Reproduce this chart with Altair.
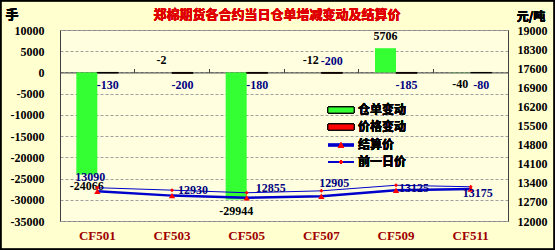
import altair as alt
import pandas as pd

categories = ["CF501", "CF503", "CF505", "CF507", "CF509", "CF511"]
receipt_change = [-24066, -2, -29944, -12, 5706, -40]
price_change = [-130, -200, -180, -200, -185, -80]
settle_price = [13090, 12930, 12855, 12905, 13125, 13175]
prev_price = [13220, 13130, 13035, 13105, 13310, 13255]

left_ticks = [10000, 5000, 0, -5000, -10000, -15000, -20000, -25000, -30000, -35000]
right_ticks = [12000, 12700, 13400, 14100, 14800, 15500, 16200, 16900, 17600, 18300, 19000]

title_text = "郑棉期货各合约当日仓单增减变动及结算价"
legend_labels = ["仓单变动", "价格变动", "结算价", "前一日价"]

df = pd.DataFrame({
    "cat": categories,
    "receipt": receipt_change,
    "pchg": price_change,
    "settle": settle_price,
    "prev": prev_price,
})

W, H = 448, 191
NUM_FONT = "Liberation Serif"
CJK_FONT = "Noto Sans CJK SC"
GREEN = "#33FF33"
RED = "#FF0000"
BLUE = "#0000CC"
NAVY = "#000080"

base = alt.Chart(df).transform_calculate(
    receipt_s="'' + datum.receipt",
    pchg_s="'' + datum.pchg",
    settle_s="'' + datum.settle",
)

def xenc(axis=None):
    return alt.X("cat:N", sort=categories,
                 scale=alt.Scale(type="band", domain=categories, paddingInner=0, paddingOuter=0),
                 axis=axis)

def yleft(field, axis=None):
    return alt.Y(field, scale=alt.Scale(domain=[-35000, 10000], nice=False, zero=False), axis=axis)

def yright(field, axis=None):
    return alt.Y(field, scale=alt.Scale(domain=[12000, 19000], nice=False, zero=False), axis=axis)

bottom_axis = alt.Axis(orient="bottom", domain=False, ticks=False, labelAngle=0, grid=False,
                       labelFont=NUM_FONT, labelFontWeight="bold", labelFontSize=13,
                       labelColor="#A00000", labelPadding=8, title=None)
zero_axis = alt.Axis(orient="top", offset=-(H * 10000 / 45000), labels=False, ticks=True,
                     tickSize=4, tickColor="#404040", domain=True, domainColor="#404040",
                     bandPosition=0, grid=False, title=None)
left_axis = alt.Axis(values=left_ticks, labelExpr="'' + datum.value", grid=True,
                     gridDash=[3, 2], gridColor="#A0A0A0", domain=True, domainColor="#404040",
                     ticks=False, labelFont=NUM_FONT, labelFontSize=12, labelFontWeight="bold",
                     labelColor="black", labelPadding=16, title=None)
right_axis = alt.Axis(orient="right", values=right_ticks, labelExpr="'' + datum.value",
                      grid=False, domain=True, domainColor="#404040", ticks=False,
                      labelFont=NUM_FONT, labelFontSize=12, labelFontWeight="bold",
                      labelColor="black", labelPadding=9, title=None)

green_bars = base.mark_bar(size=21, xOffset=-10.5, color=GREEN).encode(
    x=xenc(bottom_axis), y=yleft("receipt:Q", left_axis))
red_bars = base.mark_bar(size=21, xOffset=10.5, color=RED, stroke="#000000", strokeWidth=1).encode(
    x=xenc(zero_axis), y=yleft("pchg:Q"))

num_style = dict(font=NUM_FONT, fontSize=12, fontWeight="bold")

g_above = base.transform_filter("datum.receipt > -20").mark_text(
    baseline="bottom", dy=-5, xOffset=-10.5, color="black", **num_style).encode(
    x=xenc(), y=yleft("receipt:Q"), text="receipt_s:N")
g_below = base.transform_filter("datum.receipt <= -20").mark_text(
    baseline="top", dy=6, xOffset=-10.5, color="black", **num_style).encode(
    x=xenc(), y=yleft("receipt:Q"), text="receipt_s:N")
p_below = base.transform_filter("datum.cat != 'CF507'").mark_text(
    baseline="top", dy=7, xOffset=10.5, color=NAVY, **num_style).encode(
    x=xenc(), y=yleft("pchg:Q"), text="pchg_s:N")
p_above = base.transform_filter("datum.cat == 'CF507'").mark_text(
    baseline="bottom", dy=-5, xOffset=10.5, color=NAVY, **num_style).encode(
    x=xenc(), y=yleft("pchg:Q"), text="pchg_s:N")

prev_line = base.mark_line(color=BLUE, strokeWidth=1).encode(
    x=xenc(), y=yright("prev:Q"))
settle_line = base.mark_line(color=BLUE, strokeWidth=2.5).encode(
    x=xenc(), y=yright("settle:Q", right_axis))
prev_pts = base.mark_point(shape="diamond", filled=True, color=RED, size=16, opacity=1).encode(
    x=xenc(), y=yright("prev:Q"))
settle_pts = base.mark_point(shape="triangle-up", filled=True, color=RED, size=40, opacity=1).encode(
    x=xenc(), y=yright("settle:Q"))

def settle_label(cats, dx, dy, align="left"):
    cond = " || ".join(f"datum.cat == '{c}'" for c in cats)
    return base.transform_filter(cond).mark_text(
        align=align, baseline="middle", dx=dx, dy=dy, color=NAVY, **num_style).encode(
        x=xenc(), y=yright("settle:Q"), text="settle_s:N")

s_labels = [
    settle_label(["CF501"], -7, -14, "center"),
    settle_label(["CF503"], 6, -6),
    settle_label(["CF505"], 9, -10),
    settle_label(["CF507"], -2, -13),
    settle_label(["CF509"], 3, -2),
    settle_label(["CF511"], -8, 4),
]

# decorations: titles, legend, outer frame
def txt(t, x, y, size, color="black", align="center", font=CJK_FONT):
    return alt.Chart(df).mark_text(text=t, align=align, baseline="middle", font=font,
                                   fontSize=size, fontWeight="bold", color=color).encode(
        x=alt.value(x), y=alt.value(y))

title = txt(title_text, 217, -15, 13, color="#E00000")
unit_l = txt("手", -48, -15, 13)
unit_r = txt("元/吨", 471, -13, 12)

lx0, lx1, ltx = 268, 294, 298
rows = [80, 97, 115, 132]
leg = []
leg.append(alt.Chart(df).mark_rect(fill=GREEN, stroke="#000000", strokeWidth=0.8).encode(
    x=alt.value(lx0), x2=alt.value(lx1), y=alt.value(rows[0] - 3), y2=alt.value(rows[0] + 3)))
leg.append(alt.Chart(df).mark_rect(fill=RED, stroke="#000000", strokeWidth=0.8).encode(
    x=alt.value(lx0), x2=alt.value(lx1), y=alt.value(rows[1] - 3), y2=alt.value(rows[1] + 3)))
leg.append(alt.Chart(df).mark_rule(color=BLUE, strokeWidth=2.5).encode(
    x=alt.value(lx0), x2=alt.value(lx1), y=alt.value(rows[2])))
leg.append(alt.Chart(df).mark_point(shape="triangle-up", filled=True, color=RED, size=40, opacity=1).encode(
    x=alt.value((lx0 + lx1) / 2), y=alt.value(rows[2])))
leg.append(alt.Chart(df).mark_rule(color=BLUE, strokeWidth=1).encode(
    x=alt.value(lx0), x2=alt.value(lx1), y=alt.value(rows[3])))
leg.append(alt.Chart(df).mark_point(shape="diamond", filled=True, color=RED, size=16, opacity=1).encode(
    x=alt.value((lx0 + lx1) / 2), y=alt.value(rows[3])))
for lab, ry in zip(legend_labels, rows):
    leg.append(txt(lab, ltx, ry, 12, align="left"))

frame = alt.Chart(df).mark_rect(fill=None, stroke="#000000", strokeWidth=1.5).encode(
    x=alt.value(-59.5), x2=alt.value(494.5), y=alt.value(-29.5), y2=alt.value(219.5))

chart = alt.layer(
    green_bars, red_bars, g_above, g_below, p_below, p_above,
    prev_line, settle_line, prev_pts, settle_pts, *s_labels,
    title, unit_l, unit_r, *leg, frame,
).resolve_scale(y="independent").resolve_axis(x="independent").properties(
    width=W, height=H,
    autosize=alt.AutoSizeParams(type="none"),
    padding={"left": 60, "top": 30, "right": 47, "bottom": 29},
    background="#FFFFD0",
).configure_view(stroke="#808080", fill="#FFFFE0")

chart.save("out.html", embed_options={"renderer": "svg", "actions": False})
